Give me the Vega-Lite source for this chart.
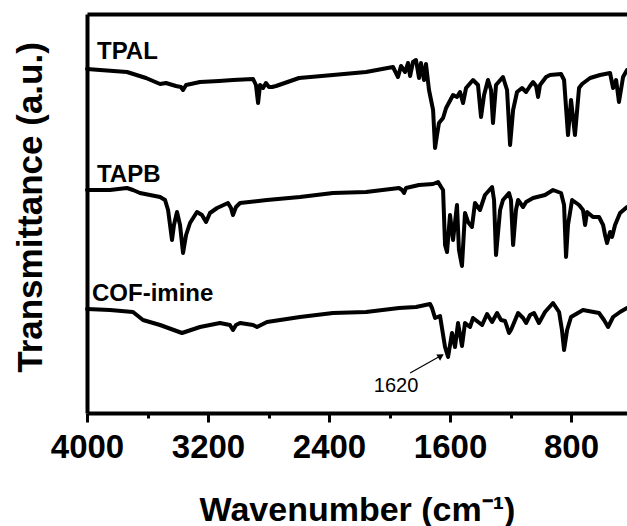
{
 "$schema": "https://vega.github.io/schema/vega-lite/v6.json",
 "width": 540,
 "height": 399,
 "autosize": {"type": "none"},
 "padding": {"left": 87, "top": 14, "right": 0, "bottom": 113},
 "background": "white",
 "config": {"view": {"stroke": null}, "font": "Liberation Sans"},
 "datasets": {
  "TPAL": [
   {"wn":4000,"t":344},{"wn":3914,"t":343},{"wn":3736,"t":341},{"wn":3610,"t":335},{"wn":3517,"t":329},{"wn":3478,"t":330},{"wn":3412,"t":327},{"wn":3379,"t":326},{"wn":3365,"t":323},{"wn":3345,"t":328},{"wn":3253,"t":331},{"wn":3127,"t":332},{"wn":3035,"t":333},{"wn":2902,"t":334},{"wn":2883,"t":328},{"wn":2869,"t":310},{"wn":2856,"t":328},{"wn":2836,"t":325},{"wn":2817,"t":330},{"wn":2797,"t":326},{"wn":2777,"t":326},{"wn":2750,"t":327},{"wn":2598,"t":335},{"wn":2374,"t":338},{"wn":2155,"t":341},{"wn":1977,"t":346},{"wn":1944,"t":336},{"wn":1924,"t":347},{"wn":1897,"t":341},{"wn":1878,"t":350},{"wn":1864,"t":337},{"wn":1845,"t":351},{"wn":1825,"t":353},{"wn":1805,"t":335},{"wn":1792,"t":350},{"wn":1772,"t":333},{"wn":1759,"t":349},{"wn":1739,"t":323},{"wn":1712,"t":303},{"wn":1699,"t":265},{"wn":1686,"t":278},{"wn":1673,"t":290},{"wn":1646,"t":295},{"wn":1626,"t":305},{"wn":1580,"t":318},{"wn":1554,"t":316},{"wn":1534,"t":321},{"wn":1514,"t":310},{"wn":1494,"t":325},{"wn":1448,"t":333},{"wn":1415,"t":328},{"wn":1395,"t":296},{"wn":1375,"t":318},{"wn":1349,"t":333},{"wn":1329,"t":323},{"wn":1316,"t":290},{"wn":1296,"t":328},{"wn":1250,"t":336},{"wn":1223,"t":323},{"wn":1203,"t":268},{"wn":1183,"t":303},{"wn":1157,"t":321},{"wn":1124,"t":325},{"wn":1097,"t":321},{"wn":1071,"t":327},{"wn":1051,"t":331},{"wn":1031,"t":327},{"wn":1018,"t":316},{"wn":1005,"t":328},{"wn":965,"t":336},{"wn":939,"t":338},{"wn":866,"t":339},{"wn":846,"t":333},{"wn":820,"t":278},{"wn":800,"t":313},{"wn":774,"t":278},{"wn":747,"t":325},{"wn":727,"t":329},{"wn":674,"t":335},{"wn":608,"t":338},{"wn":542,"t":340},{"wn":522,"t":325},{"wn":502,"t":333},{"wn":483,"t":311},{"wn":456,"t":336},{"wn":430,"t":343}
  ],
  "TAPB": [
   {"wn":4000,"t":223},{"wn":3848,"t":223},{"wn":3736,"t":225},{"wn":3696,"t":223},{"wn":3650,"t":220},{"wn":3517,"t":216},{"wn":3484,"t":213},{"wn":3464,"t":203},{"wn":3451,"t":188},{"wn":3438,"t":173},{"wn":3425,"t":188},{"wn":3405,"t":201},{"wn":3385,"t":188},{"wn":3365,"t":160},{"wn":3345,"t":178},{"wn":3319,"t":190},{"wn":3273,"t":201},{"wn":3240,"t":198},{"wn":3213,"t":191},{"wn":3187,"t":200},{"wn":3140,"t":205},{"wn":3068,"t":210},{"wn":3048,"t":205},{"wn":3035,"t":198},{"wn":3015,"t":206},{"wn":2988,"t":210},{"wn":2810,"t":213},{"wn":2592,"t":216},{"wn":2374,"t":220},{"wn":2155,"t":221},{"wn":1937,"t":225},{"wn":1917,"t":223},{"wn":1904,"t":220},{"wn":1891,"t":225},{"wn":1805,"t":228},{"wn":1712,"t":229},{"wn":1679,"t":231},{"wn":1659,"t":226},{"wn":1646,"t":223},{"wn":1633,"t":168},{"wn":1620,"t":161},{"wn":1600,"t":198},{"wn":1580,"t":173},{"wn":1554,"t":208},{"wn":1541,"t":163},{"wn":1521,"t":147},{"wn":1501,"t":200},{"wn":1481,"t":191},{"wn":1455,"t":186},{"wn":1435,"t":210},{"wn":1402,"t":203},{"wn":1369,"t":218},{"wn":1322,"t":226},{"wn":1309,"t":213},{"wn":1296,"t":158},{"wn":1269,"t":203},{"wn":1250,"t":213},{"wn":1210,"t":220},{"wn":1197,"t":213},{"wn":1183,"t":168},{"wn":1164,"t":203},{"wn":1150,"t":213},{"wn":1117,"t":206},{"wn":1097,"t":211},{"wn":1051,"t":215},{"wn":972,"t":218},{"wn":919,"t":223},{"wn":866,"t":220},{"wn":846,"t":208},{"wn":833,"t":156},{"wn":820,"t":188},{"wn":793,"t":213},{"wn":747,"t":208},{"wn":721,"t":203},{"wn":707,"t":188},{"wn":694,"t":201},{"wn":655,"t":196},{"wn":615,"t":196},{"wn":588,"t":188},{"wn":575,"t":178},{"wn":562,"t":170},{"wn":542,"t":181},{"wn":529,"t":176},{"wn":509,"t":188},{"wn":476,"t":200},{"wn":430,"t":206}
  ],
  "COF": [
   {"wn":4000,"t":104},{"wn":3848,"t":103},{"wn":3696,"t":101},{"wn":3630,"t":93},{"wn":3517,"t":88},{"wn":3372,"t":80},{"wn":3253,"t":86},{"wn":3121,"t":90},{"wn":3055,"t":88},{"wn":3035,"t":83},{"wn":3015,"t":88},{"wn":2988,"t":90},{"wn":2902,"t":88},{"wn":2876,"t":86},{"wn":2810,"t":91},{"wn":2592,"t":96},{"wn":2374,"t":100},{"wn":2155,"t":101},{"wn":1937,"t":105},{"wn":1825,"t":106},{"wn":1732,"t":109},{"wn":1719,"t":105},{"wn":1699,"t":95},{"wn":1666,"t":97},{"wn":1633,"t":66},{"wn":1613,"t":56},{"wn":1587,"t":80},{"wn":1567,"t":66},{"wn":1547,"t":90},{"wn":1521,"t":67},{"wn":1501,"t":90},{"wn":1468,"t":86},{"wn":1448,"t":95},{"wn":1388,"t":88},{"wn":1355,"t":99},{"wn":1322,"t":91},{"wn":1289,"t":100},{"wn":1263,"t":93},{"wn":1236,"t":92},{"wn":1210,"t":80},{"wn":1197,"t":83},{"wn":1150,"t":100},{"wn":1117,"t":95},{"wn":1097,"t":90},{"wn":1071,"t":98},{"wn":1045,"t":100},{"wn":1012,"t":90},{"wn":972,"t":101},{"wn":919,"t":110},{"wn":879,"t":101},{"wn":860,"t":83},{"wn":846,"t":63},{"wn":826,"t":83},{"wn":800,"t":96},{"wn":721,"t":103},{"wn":615,"t":100},{"wn":582,"t":93},{"wn":555,"t":86},{"wn":522,"t":96},{"wn":476,"t":101},{"wn":430,"t":105}
  ],
  "labels": [
   {"wn":3934,"t":354,"label":"TPAL"},
   {"wn":3934,"t":231,"label":"TAPB"},
   {"wn":3967,"t":112,"label":"COF-imine"}
  ],
  "note": [{"wn":1957,"t":21,"label":"1620"}],
  "arrow": [{"wn":1864,"t":40,"wn2":1652,"t2":58}],
  "head": [{"wn":1660,"t":57}]
 },
 "layer": [
  {
   "data": {"name": "TPAL"},
   "mark": {"type": "line", "color": "black", "strokeWidth": 4, "strokeJoin": "round", "strokeCap": "round"},
   "encoding": {
    "x": {"field": "wn", "type": "quantitative",
     "scale": {"domain": [430, 4000], "reverse": true, "nice": false, "zero": false},
     "axis": {"orient": "bottom", "values": [4000, 3600, 3200, 2800, 2400, 2000, 1600, 1200, 800],
      "format": "d",
      "labelExpr": "datum.value % 800 === 0 ? datum.label : ''",
      "tickSize": {"condition": {"test": "datum.value % 800 === 0", "value": 9}, "value": 5},
      "tickWidth": 3, "tickColor": "black", "domainColor": "black", "domainWidth": 4,
      "labelFont": "Liberation Sans", "labelFontSize": 33, "labelFontWeight": "bold", "labelColor": "black",
      "labelPadding": 9, "labelFlush": false, "labelOverlap": false, "grid": false,
      "title": "Wavenumber (cm⁻¹)", "titleFont": "Liberation Sans", "titleFontSize": 34, "titleFontWeight": "bold",
      "titleColor": "black", "titlePadding": 29}},
    "y": {"field": "t", "type": "quantitative",
     "scale": {"domain": [0, 399], "nice": false, "zero": false},
     "axis": {"orient": "left", "ticks": false, "labels": false, "grid": false,
      "domainColor": "black", "domainWidth": 4,
      "title": "Transmittance (a.u.)", "titleFont": "Liberation Sans", "titleFontSize": 35,
      "titleFontWeight": "bold", "titleColor": "black", "titlePadding": 39, "titleY": 193}}
   }
  },
  {
   "data": {"name": "TAPB"},
   "mark": {"type": "line", "color": "black", "strokeWidth": 4, "strokeJoin": "round", "strokeCap": "round"},
   "encoding": {
    "x": {"field": "wn", "type": "quantitative", "axis": null},
    "y": {"field": "t", "type": "quantitative", "axis": null}
   }
  },
  {
   "data": {"name": "COF"},
   "mark": {"type": "line", "color": "black", "strokeWidth": 4, "strokeJoin": "round", "strokeCap": "round"},
   "encoding": {
    "x": {"field": "wn", "type": "quantitative", "axis": null},
    "y": {"field": "t", "type": "quantitative", "axis": null}
   }
  },
  {
   "data": {"name": "labels"},
   "mark": {"type": "text", "align": "left", "baseline": "alphabetic", "font": "Liberation Sans", "fontSize": 24, "fontWeight": "bold", "color": "black"},
   "encoding": {
    "x": {"field": "wn", "type": "quantitative",
     "axis": {"orient": "top", "labels": false, "ticks": false, "grid": false, "title": null, "domainColor": "black", "domainWidth": 4}},
    "y": {"field": "t", "type": "quantitative", "axis": null},
    "text": {"field": "label"}
   }
  },
  {
   "data": {"name": "note"},
   "mark": {"type": "text", "align": "center", "baseline": "alphabetic", "font": "Liberation Sans", "fontSize": 20, "color": "black"},
   "encoding": {
    "x": {"field": "wn", "type": "quantitative", "axis": null},
    "y": {"field": "t", "type": "quantitative", "axis": null},
    "text": {"field": "label"}
   }
  },
  {
   "data": {"name": "arrow"},
   "mark": {"type": "rule", "color": "black", "strokeWidth": 1.2},
   "encoding": {
    "x": {"field": "wn", "type": "quantitative", "axis": null},
    "y": {"field": "t", "type": "quantitative", "axis": null},
    "x2": {"field": "wn2"},
    "y2": {"field": "t2"}
   }
  },
  {
   "data": {"name": "head"},
   "mark": {"type": "point", "shape": "triangle-up", "filled": true, "size": 55, "angle": 59, "color": "black", "opacity": 1},
   "encoding": {
    "x": {"field": "wn", "type": "quantitative", "axis": null},
    "y": {"field": "t", "type": "quantitative", "axis": null}
   }
  }
 ],
 "resolve": {"axis": {"x": "independent", "y": "independent"}}
}
